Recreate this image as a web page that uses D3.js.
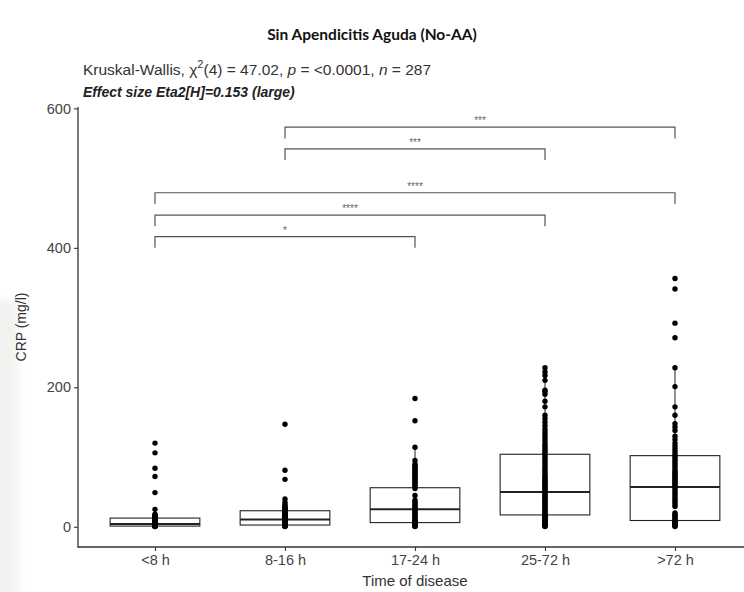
<!DOCTYPE html>
<html>
<head>
<meta charset="utf-8">
<script src="https://cdn.jsdelivr.net/npm/d3@7"></script>
<style>
  html, body { margin: 0; padding: 0; background: #fff; }
  svg { display: block; }
</style>
</head>
<body>
<svg id="chart" width="744" height="592"></svg>
<script>
// Time-of-disease groups
const categories = ["<8 h", "8-16 h", "17-24 h", "25-72 h", ">72 h"];

// Box statistics per group (CRP, mg/l)
const boxQ1 = [1, 2.5, 6, 17, 9];
const boxMedian = [4, 10.5, 25, 50, 57];
const boxQ3 = [12.5, 23, 56, 104, 102];
const whiskerLow = [0.3, 0.5, 0.5, 0.5, 0.5];
const whiskerHigh = [25, 40, 114, 228, 228];

// Individual observations per group
const pointsLt8 = [0.3,0.5,0.6,0.8,0.9,1,1,1.2,1.4,1.5,1.8,2,2.2,2.5,2.8,3,3.2,3.5,3.8,4,4.2,4.5,5,5.5,6,6.5,7,7.5,8,9,10,11,12,13,14,15,16,17,18,25,49,72,84,106,120];
const points8to16 = [0.5,0.8,1,1.2,1.5,2,2.2,2.5,3,3.5,4,4.5,5,5.5,6,6.5,7,7.5,8,8.5,9,9.5,10,10.5,11,11.5,12,13,14,15,16,17,18,19,20,21,22,23,24,25,26,27,28,30,32,35,40,68,81,147];
const points17to24 = [0.5,1,1.5,2,3,4,5,6,7,8,9,10,12,14,16,18,20,22,24,25,26,28,30,32,34,36,38,45,55,58,60,62,64,66,68,70,72,74,76,78,80,82,84,86,88,90,95,114,152,184];
const points25to72 = [0.5,1,2,3,4,5,6,7,8,9,10,11,12,13,14,15,16,17,18,20,22,24,26,28,30,32,34,36,38,40,42,44,46,48,50,52,54,56,58,60,62,64,66,68,70,72,75,78,81,84,87,90,93,96,99,102,105,108,111,114,117,120,124,128,132,136,140,145,150,155,160,172,180,190,194,196,210,217,222,228];
const pointsGt72 = [0.5,1,2,3,4,5,6,7,8,10,12,14,16,18,20,29,32,35,38,41,44,47,50,53,56,58,60,62,64,66,68,70,72,74,76,78,80,83,86,89,92,95,98,101,104,108,112,116,120,125,130,138,143,148,160,172,201,228,271,292,341,356];
const groupPoints = [pointsLt8, points8to16, points17to24, points25to72, pointsGt72];

// Pairwise comparisons (Dunn test) drawn as brackets
const bracketFrom = ["8-16 h", "8-16 h", "<8 h", "<8 h", "<8 h"];
const bracketTo = [">72 h", "25-72 h", ">72 h", "25-72 h", "17-24 h"];
const bracketY = [573, 542, 479, 447, 416];
const bracketLabel = ["***", "***", "****", "****", "*"];

const yTicks = [0, 200, 400, 600];

const svg = d3.select("#chart");

// faint grey smudge along the left edge
const haze = svg.append("defs").append("filter").attr("id", "soft")
  .attr("x", "-50%").attr("y", "-50%").attr("width", "200%").attr("height", "200%");
haze.append("feGaussianBlur").attr("stdDeviation", 5);
svg.append("rect").attr("x", -10).attr("y", 300).attr("width", 28).attr("height", 300)
  .attr("fill", "#f1f3f1").attr("filter", "url(#soft)");

const x = d3.scalePoint().domain(categories).range([77, 753]).padding(0.6);
const y = d3.scaleLinear().domain([-29, 602]).range([547, 107]);
const step = x.step();
const boxW = step * 0.69;

const axisColor = "#333";
const textColor = "#444";
const font = "'Liberation Sans', Arial, sans-serif";

// Title
svg.append("text").attr("x", 372).attr("y", 40).attr("text-anchor", "middle")
  .attr("font-family", "Lato, 'Open Sans', sans-serif").attr("font-weight", "bold")
  .attr("font-size", 15.5).attr("fill", "#111").text("Sin Apendicitis Aguda (No-AA)");

// Subtitle with test statistics
const sub = svg.append("text").attr("x", 83).attr("y", 75)
  .attr("font-family", font).attr("font-size", 15.5).attr("fill", "#333");
sub.append("tspan").text("Kruskal-Wallis, ");
sub.append("tspan").text("χ");
sub.append("tspan").attr("dy", -7).attr("font-size", 11).text("2");
sub.append("tspan").attr("dy", 7).text("(4) = 47.02, ");
sub.append("tspan").attr("font-style", "italic").text("p");
sub.append("tspan").text(" = <0.0001, ");
sub.append("tspan").attr("font-style", "italic").text("n");
sub.append("tspan").text(" = 287");

svg.append("text").attr("x", 83).attr("y", 97)
  .attr("font-family", font).attr("font-size", 14).attr("font-weight", "bold")
  .attr("font-style", "italic").attr("fill", "#222")
  .text("Effect size Eta2[H]=0.153 (large)");

// Axes
const yAxis = svg.append("g").attr("transform", "translate(78,0)")
  .call(d3.axisLeft(y).tickValues(yTicks).tickSize(4).tickPadding(3));
const xAxis = svg.append("g").attr("transform", "translate(0,547)")
  .call(d3.axisBottom(x).tickSize(4).tickPadding(4));
[yAxis, xAxis].forEach(g => {
  g.select(".domain").remove();
  g.selectAll(".tick line").attr("stroke", axisColor).attr("stroke-width", 1.1);
  g.selectAll(".tick text").attr("font-family", font).attr("font-size", 14.5).attr("fill", textColor);
});
svg.append("line").attr("x1", 78).attr("x2", 78).attr("y1", y(602)).attr("y2", 547.5)
  .attr("stroke", axisColor).attr("stroke-width", 1.3);
svg.append("line").attr("x1", 77.5).attr("x2", 744).attr("y1", 547).attr("y2", 547)
  .attr("stroke", axisColor).attr("stroke-width", 1.3);

svg.append("text").attr("transform", "translate(26,327) rotate(-90)").attr("text-anchor", "middle")
  .attr("font-family", font).attr("font-size", 14).attr("fill", "#333").text("CRP (mg/l)");
svg.append("text").attr("x", 415).attr("y", 586).attr("text-anchor", "middle")
  .attr("font-family", font).attr("font-size", 15).attr("fill", "#333").text("Time of disease");

// Boxplots
const boxes = svg.append("g");
categories.forEach((c, i) => {
  const cx = x(c);
  const g = boxes.append("g").attr("stroke", "#222").attr("fill", "none");
  g.append("line").attr("x1", cx).attr("x2", cx).attr("y1", y(boxQ3[i])).attr("y2", y(whiskerHigh[i])).attr("stroke-width", 1);
  g.append("line").attr("x1", cx).attr("x2", cx).attr("y1", y(boxQ1[i])).attr("y2", y(whiskerLow[i])).attr("stroke-width", 1);
  g.append("rect").attr("x", cx - boxW / 2).attr("width", boxW)
    .attr("y", y(boxQ3[i])).attr("height", y(boxQ1[i]) - y(boxQ3[i]))
    .attr("fill", "#fff").attr("stroke-width", 1.1);
  g.append("line").attr("x1", cx - boxW / 2).attr("x2", cx + boxW / 2)
    .attr("y1", y(boxMedian[i])).attr("y2", y(boxMedian[i])).attr("stroke-width", 2);
});

// Observations
categories.forEach((c, i) => {
  svg.append("g").selectAll("circle").data(groupPoints[i]).join("circle")
    .attr("cx", x(c)).attr("cy", d => y(d)).attr("r", 2.7).attr("fill", "#000");
});

// Significance brackets
const tip = 16;
const br = svg.append("g").attr("stroke", "#555").attr("stroke-width", 1.2).attr("fill", "none");
bracketY.forEach((v, i) => {
  const x1 = x(bracketFrom[i]), x2 = x(bracketTo[i]);
  br.append("path").attr("d", d3.line()([[x1, y(v - tip)], [x1, y(v)], [x2, y(v)], [x2, y(v - tip)]]));
  svg.append("text").attr("x", (x1 + x2) / 2).attr("y", y(v) - 3).attr("text-anchor", "middle")
    .attr("font-family", font).attr("font-size", 10).attr("fill", "#666").text(bracketLabel[i]);
});
</script>
</body>
</html>
